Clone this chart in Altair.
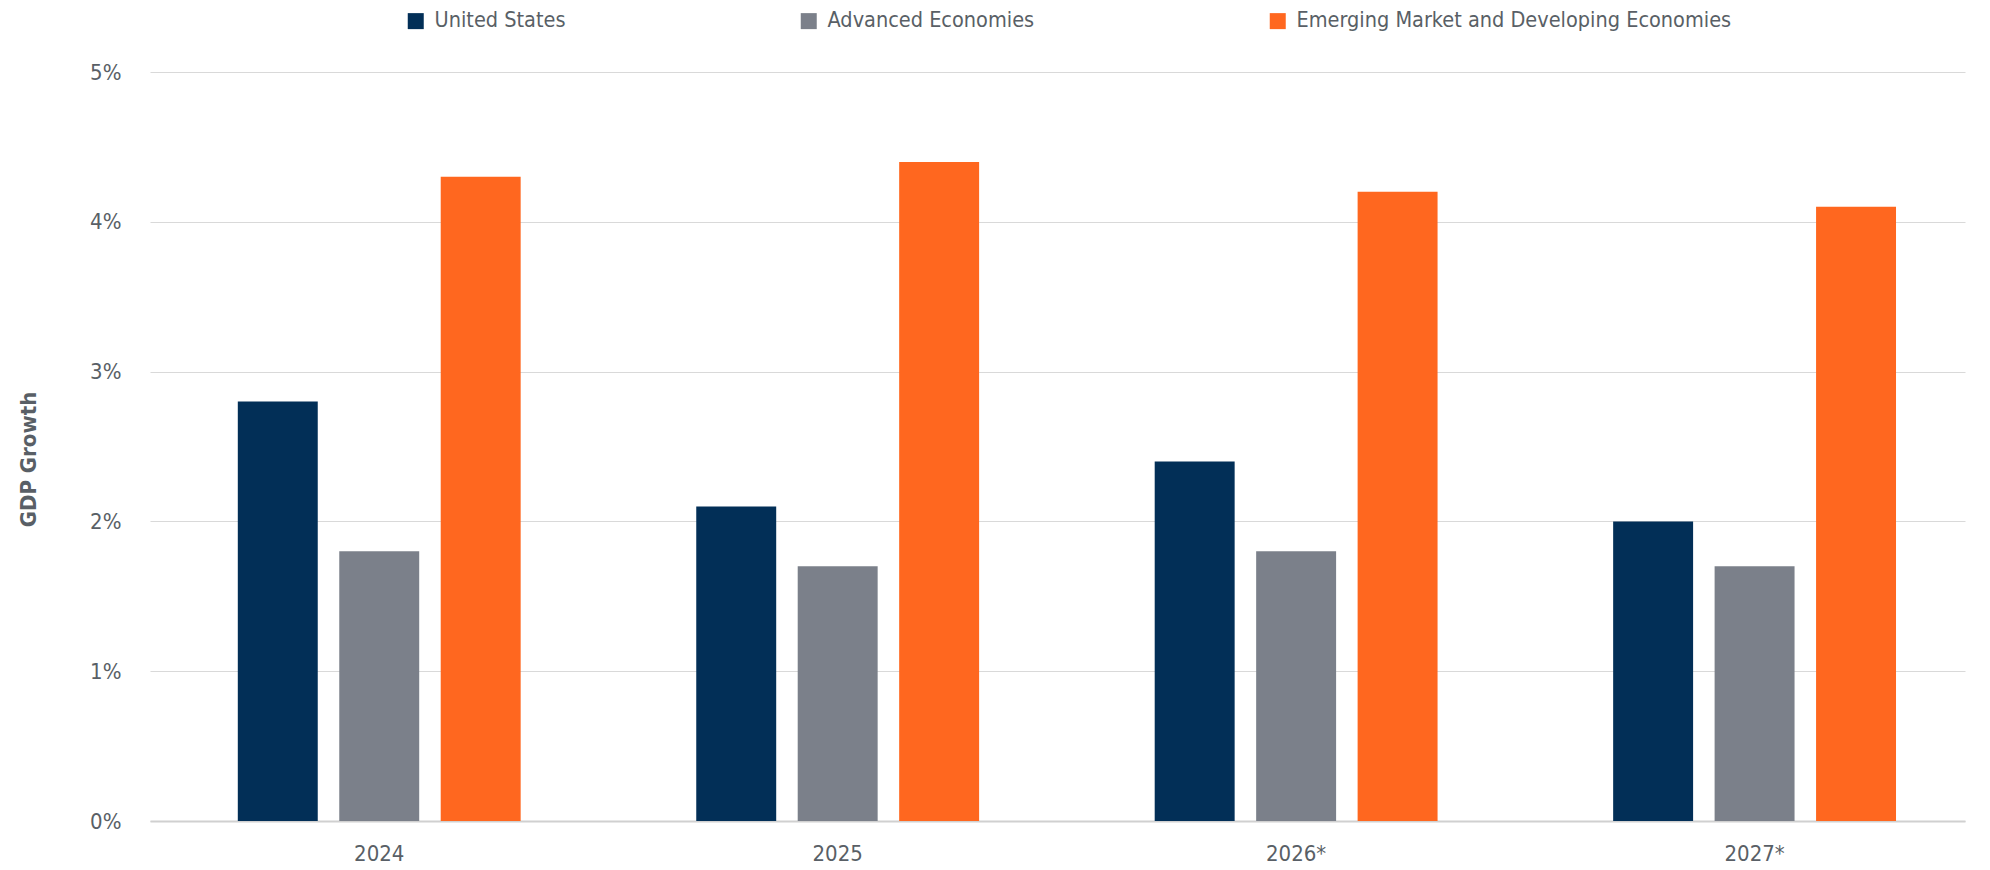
import altair as alt
import pandas as pd

years = ["2024", "2025", "2026*", "2027*"]
series = ["United States", "Advanced Economies", "Emerging Market and Developing Economies"]
us = [2.8, 2.1, 2.4, 2.0]
adv = [1.8, 1.7, 1.8, 1.7]
emde = [4.3, 4.4, 4.2, 4.1]
colors = ["#022f57", "#7b808a", "#ff671f"]
y_ticks = [0, 1, 2, 3, 4, 5]

rows = []
for i, y in enumerate(years):
    for s, vals in zip(series, [us, adv, emde]):
        rows.append({"year": y, "series": s, "value": vals[i]})
df = pd.DataFrame(rows)

FONT = "'DejaVu Sans Condensed', 'Liberation Sans', sans-serif"
TXT = "#595f66"

chart = alt.Chart(df).mark_bar().encode(
    x=alt.X("year:N", sort=years, title=None,
            scale=alt.Scale(paddingInner=0.383, paddingOuter=0.171, align=0.56),
            axis=alt.Axis(labelAngle=0, labelFontSize=22, labelColor=TXT, labelFont=FONT,
                          ticks=False, domain=True, domainColor="#d0d0d0", domainWidth=2,
                          labelPadding=22)),
    xOffset=alt.XOffset("series:N", sort=series,
                        scale=alt.Scale(paddingInner=0.212, paddingOuter=0)),
    y=alt.Y("value:Q", title="GDP Growth",
            scale=alt.Scale(domain=[0, 5]),
            axis=alt.Axis(values=y_ticks, labelExpr="datum.value + '%'", labelOverlap=False,
                          labelFontSize=22, labelColor=TXT, labelFont=FONT,
                          ticks=False, domain=False, gridColor="#d9d9d9", gridWidth=1.2,
                          labelPadding=29, titleFont=FONT, titleFontSize=22,
                          titleFontWeight="bold", titleColor=TXT, titleAngle=-90,
                          titleX=-122, titleY=387, titleBaseline="middle", titleAlign="center")),
    color=alt.Color("series:N", sort=series,
                    scale=alt.Scale(domain=series, range=colors),
                    legend=alt.Legend(title=None, orient="none", direction="horizontal",
                                      legendX=255, legendY=-62,
                                      symbolType="square", symbolSize=256,
                                      symbolStrokeWidth=0, symbolOpacity=1,
                                      labelFont=FONT, labelFontSize=21.5, labelColor=TXT,
                                      columnPadding=232, labelOffset=8, labelLimit=600)),
).properties(
    width=1815, height=749,
    autosize=alt.AutoSizeParams(type="none"),
    padding={"left": 142, "top": 64, "right": 17, "bottom": 50},
).configure_view(stroke=None)

chart.save("out.html", embed_options={"renderer": "svg", "actions": False})
